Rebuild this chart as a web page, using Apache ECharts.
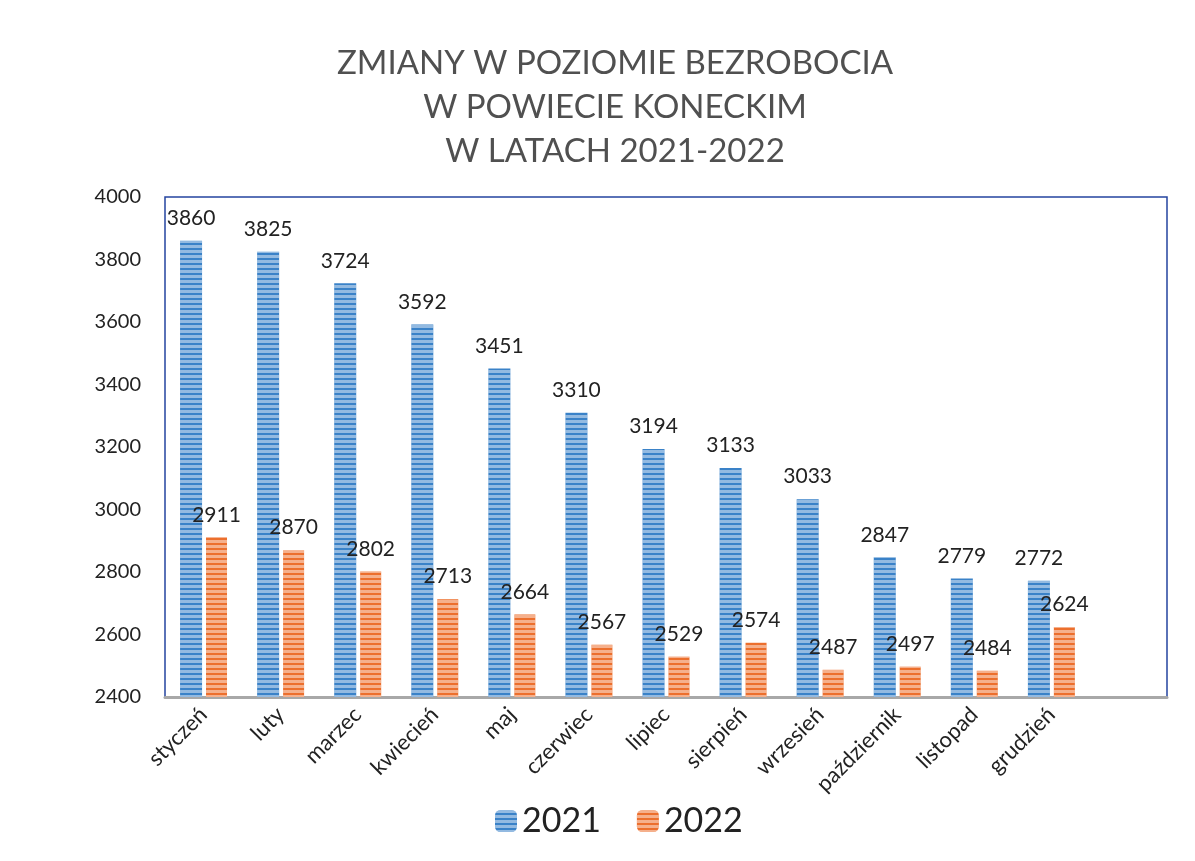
<!DOCTYPE html>
<html>
<head>
<meta charset="utf-8">
<script src="https://cdn.jsdelivr.net/npm/echarts@6/dist/echarts.min.js"></script>
<style>
  html, body { margin: 0; padding: 0; background: #fff; }
  #chart { width: 1195px; height: 861px; }
</style>
</head>
<body>
<div id="chart"></div>
<script>
// miesiące (ostatnia pozycja pusta - wolne miejsce po prawej, jak w oryginale)
const months = ['styczeń', 'luty', 'marzec', 'kwiecień', 'maj', 'czerwiec', 'lipiec',
  'sierpień', 'wrzesień', 'październik', 'listopad', 'grudzień', ''];
const data2021 = [3860, 3825, 3724, 3592, 3451, 3310, 3194, 3133, 3033, 2847, 2779, 2772, null];
const data2022 = [2911, 2870, 2802, 2713, 2664, 2567, 2529, 2574, 2487, 2497, 2484, 2624, null];
const yTicks = [2400, 4000, 200]; // min, max, krok

const font = 'Lato, "Open Sans", sans-serif';

// paski w poziome prążki jak w skanie
const stripes = {
  symbol: 'rect',
  symbolSize: 1,
  dashArrayX: [1, 0],
  dashArrayY: [3, 2],
  rotation: 0,
  color: 'rgba(255,255,255,0.45)'
};

const chart = echarts.init(document.getElementById('chart'));
chart.setOption({
  backgroundColor: '#fff',
  textStyle: { fontFamily: font },
  title: {
    text: 'ZMIANY W POZIOMIE BEZROBOCIA\nW POWIECIE KONECKIM\nW LATACH 2021-2022',
    left: 610,
    top: 36,
    textAlign: 'center',
    textStyle: {
      fontFamily: font,
      fontSize: 33,
      fontWeight: 'normal',
      color: '#505050',
      lineHeight: 44
    }
  },
  legend: {
    bottom: 18,
    left: 490,
    itemWidth: 22,
    itemHeight: 22,
    itemGap: 36,
    textStyle: { fontSize: 34, color: '#222', fontFamily: font },
    data: ['2021', '2022']
  },
  grid: {
    left: 165,
    right: 28,
    top: 197,
    bottom: 164,
    show: true,
    borderColor: '#2544a0',
    borderWidth: 1.5
  },
  xAxis: {
    type: 'category',
    data: months,
    axisLine: { show: true, lineStyle: { color: '#a8a8a8', width: 3 } },
    axisTick: { show: false },
    axisLabel: {
      rotate: 45,
      interval: 0,
      fontSize: 22,
      color: '#222',
      margin: 14
    }
  },
  yAxis: {
    type: 'value',
    min: yTicks[0],
    max: yTicks[1],
    interval: yTicks[2],
    axisLine: { show: false },
    axisTick: { show: false },
    splitLine: { show: false },
    axisLabel: { fontSize: 20, color: '#222', margin: 24, formatter: v => String(v) }
  },
  series: [
    {
      name: '2021',
      type: 'bar',
      data: data2021,
      barWidth: 22,
      barGap: '18%',
      itemStyle: { color: '#3a82c8', decal: stripes },
      label: { show: true, position: 'top', fontSize: 21, color: '#222', distance: 12 }
    },
    {
      name: '2022',
      type: 'bar',
      data: data2022,
      barWidth: 21,
      itemStyle: { color: '#ec6f2d', decal: stripes },
      label: { show: true, position: 'top', fontSize: 21, color: '#222', distance: 12 }
    }
  ]
});
</script>
</body>
</html>
